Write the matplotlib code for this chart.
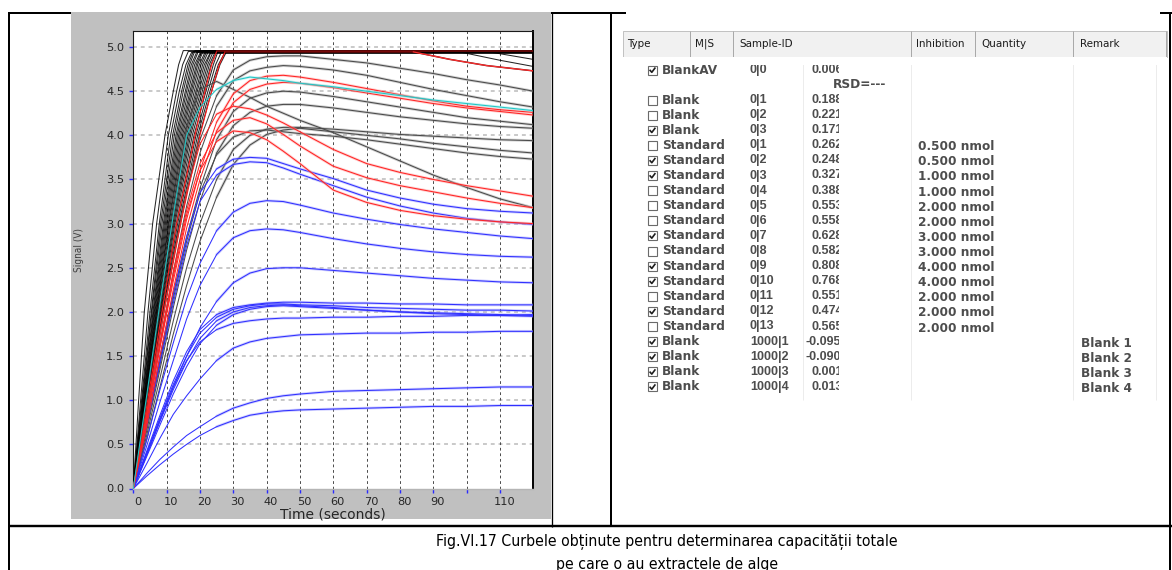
import os
import matplotlib
matplotlib.use("Agg")
import matplotlib.pyplot as plt
import matplotlib.transforms as mtransforms
from matplotlib import font_manager
from matplotlib.font_manager import FontProperties
from matplotlib.patches import Rectangle

plt.rcParams["lines.scale_dashes"] = False

# ---------------------------------------------------------------- data
X_TICKS = [0, 10, 20, 30, 40, 50, 60, 70, 80, 90, 100, 110]
X_TICK_LABELS = ["0", "10", "20", "30", "40", "50", "60", "70", "80", "90", "", "110"]
Y_TICKS = [0.0, 0.5, 1.0, 1.5, 2.0, 2.5, 3.0, 3.5, 4.0, 4.5, 5.0]

# sample times (s) for the curves that peak below the detector limit
TIME_GRID = [0, 4, 8, 12, 16, 20, 25, 30, 35, 40, 45, 50, 60, 70, 80, 90, 100, 110, 120]

gray_signal = [
    [0, 0.85, 1.75, 2.60, 3.35, 3.95, 4.45, 4.74, 4.85, 4.89, 4.90, 4.90, 4.86, 4.82, 4.76, 4.70, 4.63, 4.57, 4.50],
    [0, 0.80, 1.65, 2.45, 3.20, 3.80, 4.33, 4.62, 4.73, 4.77, 4.79, 4.78, 4.74, 4.68, 4.60, 4.52, 4.45, 4.38, 4.32],
    [0, 0.70, 1.45, 2.20, 2.85, 3.40, 3.95, 4.27, 4.42, 4.48, 4.50, 4.49, 4.44, 4.38, 4.32, 4.26, 4.20, 4.16, 4.12],
    [0, 0.65, 1.35, 2.05, 2.70, 3.25, 3.80, 4.11, 4.26, 4.33, 4.35, 4.35, 4.31, 4.26, 4.21, 4.17, 4.13, 4.10, 4.08],
    [0, 0.60, 1.25, 1.90, 2.50, 3.00, 3.50, 3.84, 4.00, 4.07, 4.09, 4.09, 4.07, 4.04, 4.01, 3.99, 3.97, 3.95, 3.94],
    [0, 0.55, 1.15, 1.75, 2.30, 2.80, 3.30, 3.67, 3.89, 4.01, 4.06, 4.08, 4.04, 4.00, 3.96, 3.91, 3.87, 3.83, 3.80],
    [0, 0.70, 1.40, 2.15, 2.80, 3.35, 3.78, 3.98, 4.05, 4.06, 4.04, 4.02, 3.99, 3.95, 3.90, 3.85, 3.80, 3.76, 3.73],
    [0, 1.00, 2.05, 3.10, 4.10, 4.52, 4.61, 4.52, 4.43, 4.33, 4.25, 4.17, 4.03, 3.87, 3.71, 3.55, 3.41, 3.28, 3.18],
]

red_signal = [
    [0, 0.75, 1.60, 2.35, 3.05, 3.60, 4.15, 4.47, 4.62, 4.67, 4.68, 4.66, 4.60, 4.53, 4.46, 4.39, 4.33, 4.29, 4.26],
    [0, 0.70, 1.50, 2.25, 2.95, 3.50, 4.05, 4.37, 4.52, 4.58, 4.60, 4.59, 4.54, 4.48, 4.42, 4.36, 4.31, 4.27, 4.23],
    [0, 0.85, 1.75, 2.60, 3.35, 3.90, 4.24, 4.33, 4.30, 4.23, 4.14, 4.04, 3.84, 3.68, 3.58, 3.50, 3.43, 3.37, 3.31],
    [0, 0.80, 1.65, 2.45, 3.15, 3.68, 4.03, 4.17, 4.20, 4.13, 4.01, 3.88, 3.65, 3.52, 3.43, 3.36, 3.29, 3.23, 3.18],
    [0, 0.80, 1.60, 2.40, 3.10, 3.60, 3.93, 4.05, 4.03, 3.95, 3.82, 3.68, 3.38, 3.24, 3.15, 3.09, 3.05, 3.02, 3.00],
]

cyan_signal = [0, 1.05, 2.10, 3.10, 4.00, 4.32, 4.52, 4.62, 4.66, 4.64, 4.62, 4.59, 4.55, 4.50, 4.45, 4.40, 4.36, 4.32, 4.28]

blue_signal = [
    [0, 0.75, 1.50, 2.20, 2.85, 3.35, 3.62, 3.73, 3.75, 3.74, 3.68, 3.62, 3.51, 3.38, 3.29, 3.22, 3.17, 3.14, 3.12],
    [0, 0.70, 1.42, 2.10, 2.75, 3.25, 3.55, 3.67, 3.70, 3.69, 3.63, 3.56, 3.43, 3.30, 3.20, 3.12, 3.06, 3.02, 2.99],
    [0, 0.55, 1.12, 1.65, 2.15, 2.55, 2.92, 3.13, 3.23, 3.26, 3.25, 3.21, 3.12, 3.05, 2.99, 2.94, 2.90, 2.86, 2.83],
    [0, 0.48, 0.98, 1.45, 1.92, 2.30, 2.65, 2.84, 2.92, 2.94, 2.93, 2.90, 2.83, 2.77, 2.72, 2.68, 2.65, 2.63, 2.62],
    [0, 0.38, 0.77, 1.15, 1.50, 1.82, 2.12, 2.33, 2.44, 2.49, 2.50, 2.50, 2.47, 2.44, 2.41, 2.38, 2.36, 2.34, 2.33],
    [0, 0.42, 0.83, 1.22, 1.55, 1.80, 1.97, 2.05, 2.08, 2.10, 2.11, 2.11, 2.10, 2.10, 2.09, 2.09, 2.08, 2.08, 2.08],
    [0, 0.40, 0.80, 1.18, 1.50, 1.76, 1.94, 2.03, 2.07, 2.09, 2.09, 2.08, 2.07, 2.05, 2.04, 2.03, 2.02, 2.02, 2.01],
    [0, 0.38, 0.76, 1.12, 1.44, 1.70, 1.90, 2.00, 2.05, 2.07, 2.08, 2.07, 2.05, 2.02, 2.00, 1.98, 1.97, 1.96, 1.95],
    [0, 0.36, 0.72, 1.07, 1.38, 1.64, 1.85, 1.97, 2.03, 2.06, 2.07, 2.06, 2.04, 2.02, 2.00, 1.99, 1.98, 1.97, 1.96],
    [0, 0.40, 0.78, 1.15, 1.45, 1.66, 1.80, 1.87, 1.90, 1.92, 1.93, 1.93, 1.94, 1.94, 1.95, 1.95, 1.96, 1.96, 1.97],
    [0, 0.28, 0.57, 0.84, 1.05, 1.24, 1.45, 1.59, 1.66, 1.70, 1.72, 1.74, 1.75, 1.76, 1.76, 1.77, 1.77, 1.78, 1.78],
    [0, 0.17, 0.33, 0.47, 0.60, 0.70, 0.82, 0.91, 0.97, 1.02, 1.05, 1.07, 1.10, 1.11, 1.12, 1.13, 1.14, 1.15, 1.15],
    [0, 0.14, 0.27, 0.39, 0.50, 0.60, 0.70, 0.77, 0.83, 0.86, 0.88, 0.89, 0.90, 0.91, 0.92, 0.93, 0.93, 0.94, 0.94],
]

# curves that run into the detector limit: time (s) at which each one
# crosses the signal levels below, then the time it reaches its plateau
SAT_LEVELS = [1.0, 2.0, 3.0, 4.0, 4.5, 4.8]
black_sat_times = [
    [1.6, 3.3, 5.8, 9.5, 12.0, 13.6, 15.0],
    [2.2, 4.4, 7.0, 10.5, 13.0, 14.8, 16.5],
    [2.5, 5.0, 7.8, 11.2, 13.8, 15.8, 17.5],
    [2.7, 5.4, 8.2, 11.8, 14.5, 16.4, 18.0],
    [2.8, 5.6, 8.6, 12.3, 15.0, 16.9, 18.5],
    [3.0, 5.9, 9.0, 12.8, 15.6, 17.4, 19.0],
    [3.1, 6.1, 9.3, 13.2, 16.0, 17.9, 19.5],
    [3.2, 6.3, 9.6, 13.6, 16.5, 18.4, 20.0],
    [3.3, 6.5, 9.9, 14.0, 17.0, 18.9, 20.5],
    [3.4, 6.7, 10.2, 14.4, 17.4, 19.3, 21.0],
    [3.5, 6.9, 10.5, 14.8, 17.8, 19.8, 21.5],
    [3.5, 7.0, 10.7, 15.2, 18.3, 20.3, 22.0],
    [3.6, 7.2, 11.0, 15.6, 18.8, 20.8, 22.5],
    [3.7, 7.4, 11.3, 16.0, 19.2, 21.3, 23.0],
    [3.8, 7.6, 11.6, 16.4, 19.7, 21.8, 23.5],
    [3.9, 7.8, 11.9, 16.8, 20.2, 22.3, 24.0],
    [4.0, 8.0, 12.2, 17.2, 20.7, 22.8, 24.5],
    [4.1, 8.2, 12.5, 17.7, 21.2, 23.3, 25.0],
    [4.2, 8.4, 12.9, 18.2, 21.8, 24.0, 25.5],
    [4.3, 8.6, 13.3, 18.8, 22.4, 24.7, 26.5],
    [4.4, 8.8, 13.7, 19.3, 23.0, 25.5, 27.5],
    [4.5, 9.0, 14.0, 19.8, 23.5, 26.0, 28.0],
]
black_sat_plateau = [4.96, 4.95, 4.94, 4.95, 4.96, 4.94, 4.95, 4.93, 4.95, 4.96, 4.94,
                     4.95, 4.95, 4.93, 4.96, 4.95, 4.94, 4.95, 4.96, 4.95, 4.94, 4.95]
red_sat_times = [
    [4.3, 8.6, 13.0, 18.5, 21.5, 23.5, 25.0],
    [4.6, 9.2, 14.2, 20.0, 23.5, 25.8, 27.5],
]
red_sat_plateau = [4.95, 4.945]

# late drops from the plateau
tail_a_curve, tail_a_t, tail_a_v = 9, [96, 110, 120], [4.96, 4.85, 4.78]
tail_b_curve, tail_b_t, tail_b_v = 15, [106, 120], [4.95, 4.86]
red_tail_curve, red_tail_t, red_tail_v = 1, [84, 95, 106, 120], [4.945, 4.86, 4.79, 4.73]

# table beside the chart
header_labels = ["Type", "M|S", "Sample-ID", "Inhibition", "Quantity", "Remark"]
row_types = ["Blank", "Blank", "Blank"] + ["Standard"] * 13 + ["Blank"] * 4
row_ids = ["0|1", "0|2", "0|3"] + [f"0|{i}" for i in range(1, 14)] + [f"1000|{i}" for i in range(1, 5)]
row_values = ["0.188", "0.221", "0.171", "0.262", "0.248", "0.327", "0.388", "0.553", "0.558",
              "0.628", "0.582", "0.808", "0.768", "0.551", "0.474", "0.565",
              "-0.095", "-0.090", "0.001", "0.013"]
row_quantity = ["", "", "", "0.500 nmol", "0.500 nmol", "1.000 nmol", "1.000 nmol", "2.000 nmol",
                "2.000 nmol", "3.000 nmol", "3.000 nmol", "4.000 nmol", "4.000 nmol", "2.000 nmol",
                "2.000 nmol", "2.000 nmol", "", "", "", ""]
row_remark = [""] * 16 + ["Blank 1", "Blank 2", "Blank 3", "Blank 4"]
row_checked = [False, False, True, False, True, True, False, False, False, True, False,
               True, True, False, True, False, True, True, True, True]

CAPTION_1 = "Fig.VI.17 Curbele obținute pentru determinarea capacității totale"
CAPTION_2 = "pe care o au extractele de alge"

# ---------------------------------------------------------------- fonts
def condensed_font():
    """Regular-weight narrow sans face, if one is installed."""
    best, best_rank = None, 99
    order = ["liberationsansnarrow", "dejavusanscondensed", "notosans", "opensans", "roboto"]
    for f in font_manager.fontManager.ttflist:
        base = os.path.basename(f.fname).lower().replace("-", "").replace("_", "")
        if not ("narrow" in base or "condensed" in base):
            continue
        if any(k in base for k in ("bold", "italic", "oblique", "light", "thin", "medium",
                                   "black", "semi", "extra", "ultra")):
            continue
        rank = next((i for i, k in enumerate(order) if base.startswith(k)), 50)
        if rank < best_rank:
            best, best_rank = f.fname, rank
    if best is None:
        return FontProperties(family="Liberation Sans")
    return FontProperties(fname=best)


NARROW_FP = condensed_font()

# ---------------------------------------------------------------- figure
W, H, DPI = 1172, 570, 100
PX = 0.72  # points per pixel
fig = plt.figure(figsize=(W / DPI, H / DPI), dpi=DPI)
fig.patch.set_facecolor("white")

bg = fig.add_axes([0, 0, 1, 1], zorder=0)
bg.set_xlim(0, W)
bg.set_ylim(H, 0)
bg.axis("off")


def hline(y, x0, x1, w=2.0, c="black", z=1):
    bg.plot([x0, x1], [y, y], color=c, lw=w * PX, solid_capstyle="butt", zorder=z)


def vline(x, y0, y1, w=2.0, c="black", z=1):
    bg.plot([x, x], [y0, y1], color=c, lw=w * PX, solid_capstyle="butt", zorder=z)


# page table frame
hline(13.3, 8, 626)
hline(13.3, 1160, 1172)
vline(9.0, 12.3, 570)
vline(611, 12.3, 527)
vline(1170, 12.3, 570)
hline(526, 8, 1172, w=2.4)
vline(551.5, 12.3, 527, w=1.3)

# grey frame of the instrument plot
bg.add_patch(Rectangle((70.8, 12.3), 479.7, 507.0, facecolor="#c0c0c0", edgecolor="none", zorder=2))

# ---------------------------------------------------------------- chart
X0, X1, Y0, Y1 = 133.3, 533.3, 30.7, 488.5
ax = fig.add_axes([X0 / W, 1 - Y1 / H, (X1 - X0) / W, (Y1 - Y0) / H], zorder=2)
ax.set_xlim(0, 120)
ax.set_ylim(0, 5.185)
ax.set_facecolor("white")

for v in Y_TICKS[1:]:
    ax.axhline(v, color="#bababa", lw=1.1, dashes=(2.8, 2.8), zorder=1)
for t in X_TICKS[1:]:
    ax.axvline(t, color="#4a4a4a", lw=0.7, dashes=(2.0, 2.0), zorder=1)

ax.set_xticks(X_TICKS)
ax.set_xticklabels(X_TICK_LABELS)
ax.set_yticks(Y_TICKS)
ax.set_yticklabels([f"{v:.1f}" for v in Y_TICKS])
ax.tick_params(axis="both", direction="out", length=3, width=1.0, color="#2a2aff",
               labelsize=8.2, labelcolor="#262626")
ax.tick_params(axis="x", pad=3.0)
ax.tick_params(axis="y", pad=3.5)
shift = mtransforms.ScaledTranslation(4.5 / DPI, 0, fig.dpi_scale_trans)
for lab in ax.get_xticklabels():
    lab.set_transform(lab.get_transform() + shift)

for side in ("left", "top"):
    ax.spines[side].set_color("#1a1a1a")
    ax.spines[side].set_linewidth(0.8)
ax.spines["right"].set_color("black")
ax.spines["right"].set_linewidth(1.4)
ax.spines["bottom"].set_color("#b5b5b5")
ax.spines["bottom"].set_linewidth(1.0)

ax.set_xlabel("Time (seconds)", fontsize=10.0, color="#262626", labelpad=0.5)
ylab_fp = NARROW_FP.copy()
ylab_fp.set_size(7.2)
fig.text(79 / W, 1 - 250 / H, "Signal (V)", rotation=90, ha="center", va="center",
         fontproperties=ylab_fp, color="#404040")


def draw_curve(t, v, core, halo, z, split=6):
    ax.plot(t[split:], v[split:], color=halo, lw=2.0, alpha=0.45, zorder=z - 0.05,
            solid_capstyle="round")
    ax.plot(t, v, color=core, lw=0.75, zorder=z)


def sat_curve(cross, plateau, tail_t=None, tail_v=None):
    t = [0] + cross
    v = [0] + SAT_LEVELS + [plateau]
    if tail_t is None:
        t = t + [120]
        v = v + [plateau]
    else:
        t = t + tail_t
        v = v + tail_v
    return t, v


# black curves reaching the limit
for i, (cross, p) in enumerate(zip(black_sat_times, black_sat_plateau)):
    if i == tail_a_curve:
        t, v = sat_curve(cross, p, tail_a_t, tail_a_v)
    elif i == tail_b_curve:
        t, v = sat_curve(cross, p, tail_b_t, tail_b_v)
    else:
        t, v = sat_curve(cross, p)
    ax.plot(t, v, color="black", lw=0.75, alpha=0.85, zorder=3.0)

# red curves reaching the limit; the stretch lying along the dark limit band is drawn darker
for i, (cross, p) in enumerate(zip(red_sat_times, red_sat_plateau)):
    if i == red_tail_curve:
        t, v = sat_curve(cross, p, red_tail_t, red_tail_v)
    else:
        t, v = sat_curve(cross, p)
    n_rise = len(SAT_LEVELS) + 2
    ax.plot(t[:n_rise], v[:n_rise], color="#ff1a1a", lw=0.8, zorder=3.1)
    ax.plot(t[n_rise - 1:], v[n_rise - 1:], color="#7a0a0a", lw=1.1, zorder=3.1)
    if i == red_tail_curve:
        ax.plot(red_tail_t, red_tail_v, color="#ff3030", lw=0.8, zorder=3.15)

for vals in gray_signal:
    draw_curve(TIME_GRID, vals, "#4a4a4a", "#9a9a9a", 3.2)
for vals in blue_signal:
    draw_curve(TIME_GRID, vals, "#3030ff", "#9a9aff", 3.4)
for vals in red_signal:
    draw_curve(TIME_GRID, vals, "#ff2424", "#ff9a9a", 3.6)
draw_curve(TIME_GRID, cyan_signal, "#1fc6c6", "#86e3e3", 3.7)

# ---------------------------------------------------------------- table
TL, TR = 623, 1167
HT, HB = 30.5, 56.5
bg.add_patch(Rectangle((TL, HT - 0.5), TR - TL, 372, facecolor="white", edgecolor="none", zorder=3))
bg.add_patch(Rectangle((TL, HT), TR - TL, HB - HT, facecolor="#f1f1f1", edgecolor="#b8b8b8",
                       lw=0.6, zorder=4))
for xs in [690, 733, 911, 975, 1073, 1166]:
    vline(xs, HT, HB, w=1.0, c="#a9a9a9", z=5)
header_x = [627, 695, 739, 916, 981, 1080]
header_texts = []
for lab, x in zip(header_labels, header_x):
    header_texts.append(bg.text(x, (HT + HB) / 2 + 0.5, lab, ha="left", va="center",
                                fontproperties=NARROW_FP.copy(), color="#1c1c1c", zorder=6))

for xs in [803, 911, 1073, 1156]:
    vline(xs, HB + 1, 400, w=1.0, c="#ececec", z=3.5)

ROW0, DY = 100.0, 15.1
WORDS = dict(fontsize=8.3, family="DejaVu Sans", weight="bold", color="#4d4d4d",
             ha="left", va="center", zorder=6)
NUMS = dict(fontsize=9.0, family="Liberation Sans", weight="bold", color="#4d4d4d",
            ha="left", va="center", zorder=6)
value_clip = mtransforms.TransformedBbox(mtransforms.Bbox.from_extents(800, 0, 838.5, H),
                                         mtransforms.IdentityTransform())
word_texts = []


def checkbox(yc, checked):
    bg.add_patch(Rectangle((647.5, yc - 4.5), 9.5, 9, facecolor="white", edgecolor="#6a6a6a",
                           lw=0.8, zorder=6))
    if checked:
        bg.plot([649.6, 651.8, 655.4], [yc - 0.2, yc + 2.3, yc - 2.5], color="#1e1e1e",
                lw=1.2, zorder=7, solid_capstyle="butt")


def word(x, y, s):
    txt = bg.text(x, y, s, **WORDS)
    word_texts.append(txt)
    return txt


def number(x, y, s, clip=False):
    txt = bg.text(x, y, s, **NUMS)
    if clip:
        txt.set_clip_box(value_clip)
        txt.set_clip_on(True)
    return txt


# average row, partly hidden under the header
yav = 70.0
checkbox(yav, True)
word(662, yav, "BlankAV")
number(750, yav, "0|0")
number(811, yav, "0.006", clip=True)
bg.add_patch(Rectangle((TL, HB + 0.4), TR - TL, 8.3, facecolor="white", edgecolor="none", zorder=8))
word(833, 85.0, "RSD=---")

ref_text = None
for i in range(len(row_types)):
    y = ROW0 + DY * i
    checkbox(y, row_checked[i])
    t0 = word(662, y, row_types[i])
    if row_types[i] == "Standard" and ref_text is None:
        ref_text = t0
    number(750, y, row_ids[i])
    vx = 806 if row_values[i].startswith("-") else 811
    number(vx, y, row_values[i], clip=True)
    if row_quantity[i]:
        word(918, y + 1.5, row_quantity[i])
    if row_remark[i]:
        word(1081, y + 2.0, row_remark[i])

# ---------------------------------------------------------------- caption
cap_fp = NARROW_FP.copy()
cap_fp.set_size(10.5)
cap1 = bg.text(667, 541.5, CAPTION_1, ha="center", va="center", fontproperties=cap_fp,
               color="black", zorder=6)
cap2 = bg.text(667, 564.5, CAPTION_2, ha="center", va="center", fontproperties=cap_fp.copy(),
               color="black", zorder=6)

# size texts to the widths they occupy on the page
fig.canvas.draw()
renderer = fig.canvas.get_renderer()
size = 10.5 * 467.0 / cap1.get_window_extent(renderer).width
cap1.set_fontsize(size)
cap2.set_fontsize(size)
inh = header_texts[3]
hsize = inh.get_fontsize() * 48.0 / inh.get_window_extent(renderer).width
for t in header_texts:
    t.set_fontsize(hsize)
rsize = 8.3 * 63.0 / ref_text.get_window_extent(renderer).width
for t in word_texts:
    t.set_fontsize(rsize)

fig.savefig("out.png", dpi=DPI, facecolor="white")
